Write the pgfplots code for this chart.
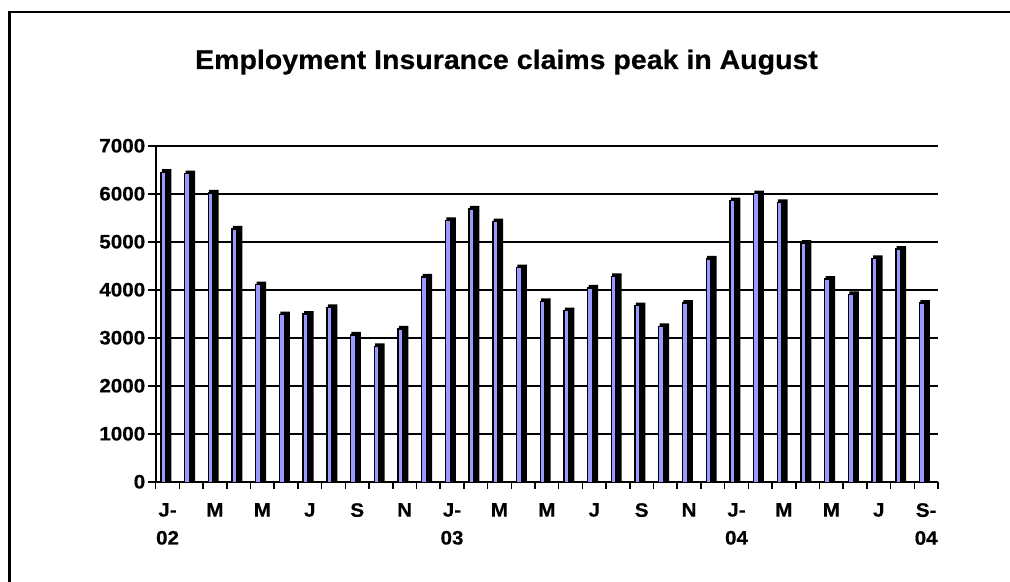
\documentclass[border=0pt]{standalone}
\usepackage{pgfplots}
\pgfplotsset{compat=1.18}
\usepackage{fontspec}
\setmainfont{Liberation Sans}[FakeStretch=1.06, BoldFeatures={FakeBold=0.5}]
\definecolor{barblue}{RGB}{153,153,255}
\begin{document}
\begin{tikzpicture}[x=1bp,y=1bp]
\useasboundingbox (0,0) rectangle (1010,582);
\draw[line width=2.8bp] (9.5,-20) -- (9.5,569.8);
\draw[line width=2.6bp] (8.1,569.8) -- (1010,569.8);
\node[anchor=base,font=\bfseries\fontsize{27}{32}\selectfont] at (506.5,513) {Employment Insurance claims peak in August};
\begin{axis}[
  at={(155.7bp,100.3bp)}, anchor=south west,
  scale only axis, width=782.3bp, height=336bp,
  xmin=-0.5, xmax=32.5, ymin=0, ymax=7000,
  axis lines*=left,
  axis line style={line width=2.2bp, -},
  ytick={0,1000,...,7000},
  ymajorgrids, major grid style={black, line width=2bp},
  xtick={0,2,...,32},
  xticklabels={J-\\02,M,M,J,S,N,J-\\03,M,M,J,S,N,J-\\04,M,M,J,S-\\04},
  minor xtick={-0.5,0.5,...,32.5},
  tick align=outside,
  major tick length=8bp, minor tick length=7bp,
  x tick style={draw=none},
  minor x tick style={draw=black, line width=1.5bp},
  y tick style={black, line width=1.8bp},
  xtick pos=left, ytick pos=left,
  tick label style={font=\bfseries\fontsize{19.5}{28}\selectfont},
  x tick label style={align=center, anchor=north, yshift=-10bp},
  y tick label style={xshift=1bp},
  /pgf/number format/assume math mode=true,
  /pgf/number format/set thousands separator={},
  yticklabel={\bfseries\pgfmathprintnumber{\tick}},
  clip=true,
]
\pgfplotstableread{
x y
0 6510
1 6480
2 6077
3 5327
4 4167
5 3542
6 3556
7 3695
8 3119
9 2883
10 3244
11 4327
12 5508
13 5744
14 5480
15 4521
16 3820
17 3625
18 4098
19 4341
20 3730
21 3300
22 3785
23 4702
24 5917
25 6063
26 5883
27 5035
28 4285
29 3966
30 4716
31 4910
32 3785
}\datatable
\addplot[ybar, bar width=9.5bp, bar shift=-1bp, fill=black, draw=none] table[x=x,y=y] {\datatable};
\addplot[ybar, bar width=4.8bp, bar shift=-4.2bp, fill=barblue, draw=black, line width=1.4bp, yshift=-3bp] table[x=x,y=y] {\datatable};
\end{axis}
\end{tikzpicture}
\end{document}
